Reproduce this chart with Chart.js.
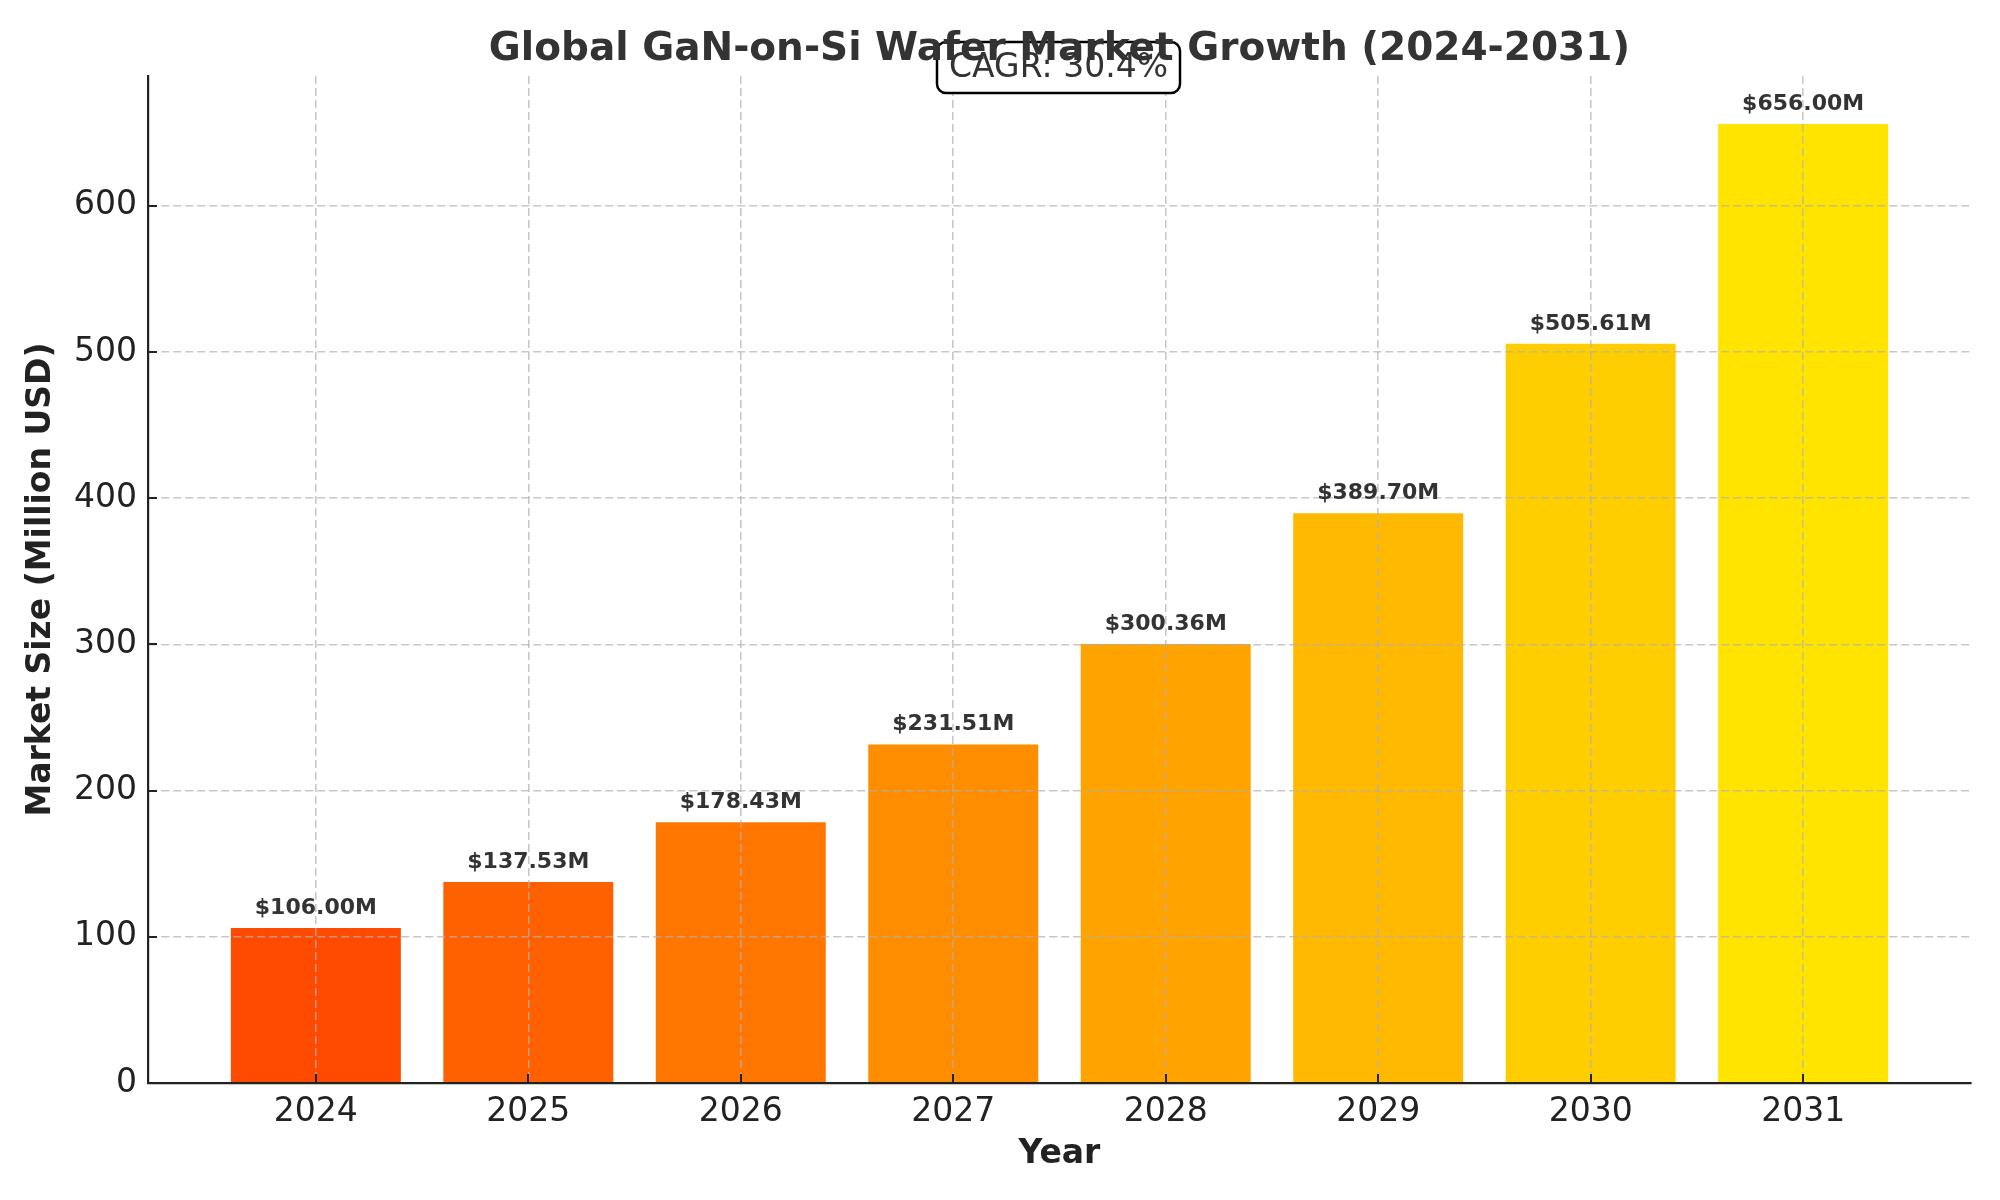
<!DOCTYPE html>
<html>
<head>
<meta charset="utf-8">
<title>Global GaN-on-Si Wafer Market Growth</title>
<script src="https://cdn.jsdelivr.net/npm/chart.js@4.4.1/dist/chart.umd.min.js"></script>
<style>
  html, body { margin: 0; padding: 0; background: #fff; }
</style>
</head>
<body>
<canvas id="myChart" width="2000" height="1200"></canvas>
<script>
// data
const years = ['2024', '2025', '2026', '2027', '2028', '2029', '2030', '2031'];
const marketSize = [106.00, 137.53, 178.43, 231.51, 300.36, 389.70, 505.61, 656.00];
const barColors = ['#ff4b00', '#ff6100', '#ff7700', '#ff8d00', '#ffa300', '#ffb900', '#ffce00', '#ffe400'];
const yTickValues = [0, 100, 200, 300, 400, 500, 600];
const chartTitle = 'Global GaN-on-Si Wafer Market Growth (2024-2031)';
const cagrText = 'CAGR: 30.4%';

const FONT = '"DejaVu Sans", Verdana, sans-serif';
const GRID = 'rgba(176,176,176,0.7)';
const yMax = Math.max(...marketSize) * 1.05;

// bars on a linear x axis so the side margins match the original
const points = marketSize.map((v, i) => ({ x: i, y: v }));

const extras = {
  id: 'extras',
  afterDraw(chart) {
    const ctx = chart.ctx;
    const area = chart.chartArea;
    const xs = chart.scales.x, ys = chart.scales.y;

    // inward tick marks
    ctx.save();
    ctx.strokeStyle = '#222';
    ctx.lineWidth = 2;
    ctx.beginPath();
    xs.ticks.forEach(t => {
      const px = Math.round(xs.getPixelForValue(t.value));
      ctx.moveTo(px, area.bottom);
      ctx.lineTo(px, area.bottom - 9);
    });
    ys.ticks.forEach(t => {
      const py = Math.round(ys.getPixelForValue(t.value));
      ctx.moveTo(area.left, py);
      ctx.lineTo(area.left + 9, py);
    });
    ctx.stroke();
    ctx.restore();

    // value labels over bars
    ctx.save();
    ctx.font = 'bold 22px ' + FONT;
    ctx.fillStyle = '#333';
    ctx.textAlign = 'center';
    ctx.textBaseline = 'bottom';
    chart.getDatasetMeta(0).data.forEach((bar, i) => {
      ctx.fillText('$' + marketSize[i].toFixed(2) + 'M', bar.x, bar.y - 9);
    });
    ctx.restore();

    // CAGR box
    const cx = (area.left + area.right) / 2;
    ctx.save();
    ctx.beginPath();
    ctx.roundRect(937, 42, 243, 51, 9);
    ctx.fillStyle = '#fff';
    ctx.fill();
    ctx.lineWidth = 2.5;
    ctx.strokeStyle = '#000';
    ctx.stroke();

    // title
    ctx.font = 'bold 39px ' + FONT;
    ctx.fillStyle = '#333';
    ctx.textAlign = 'center';
    ctx.textBaseline = 'alphabetic';
    ctx.fillText(chartTitle, cx, 60);

    ctx.font = '33px ' + FONT;
    ctx.fillText(cagrText, cx - 1, 77);
    ctx.restore();
  }
};

const ctx = document.getElementById('myChart').getContext('2d');
const myChart = new Chart(ctx, {
  type: 'bar',
  data: {
    datasets: [{
      label: 'Market Size',
      data: points,
      backgroundColor: barColors,
      borderWidth: 0,
      barPercentage: 0.8,
      categoryPercentage: 1.0
    }]
  },
  options: {
    responsive: false,
    animation: false,
    devicePixelRatio: 1,
    layout: { padding: { left: 0, right: 29, top: 76, bottom: 0 } },
    plugins: {
      legend: { display: false },
      title: { display: false },
      tooltip: { enabled: false }
    },
    scales: {
      x: {
        type: 'linear',
        min: -0.79,
        max: 7.79,
        offset: false,
        afterBuildTicks: (scale) => {
          scale.ticks = years.map((y, i) => ({ value: i }));
        },
        afterFit: (scale) => { scale.height = 117; },
        grid: {
          z: 1,
          offset: false,
          drawTicks: false,
          color: GRID,
          lineWidth: 1.6
        },
        // grid dash lives on border in v4, z keeps the axis line after the grid
        border: { display: true, color: '#222', width: 2.2, dash: [8, 4], z: 1 },
        ticks: {
          padding: 10,
          color: '#222',
          font: { family: FONT, size: 33 },
          maxRotation: 0,
          callback: (v) => years[v] !== undefined ? years[v] : ''
        },
        title: {
          display: true,
          text: 'Year',
          color: '#222',
          font: { family: FONT, size: 33, weight: 'bold' },
          padding: { top: 0, bottom: 26 }
        }
      },
      y: {
        min: 0,
        max: yMax,
        afterBuildTicks: (scale) => {
          scale.ticks = yTickValues.map(v => ({ value: v }));
        },
        afterFit: (scale) => { scale.width = 148; },
        grid: {
          z: 1,
          drawTicks: false,
          color: (c) => c.tick && c.tick.value === 0 ? 'rgba(0,0,0,0)' : GRID,
          lineWidth: 1.6
        },
        border: { display: true, color: '#222', width: 2.2, dash: [8, 4], z: 1 },
        ticks: {
          padding: 11,
          color: '#222',
          font: { family: FONT, size: 33 }
        },
        title: {
          display: true,
          text: 'Market Size (Million USD)',
          color: '#222',
          font: { family: FONT, size: 33, weight: 'bold' },
          padding: { top: 22, bottom: 0 }
        }
      }
    }
  },
  plugins: [extras]
});
</script>
</body>
</html>
